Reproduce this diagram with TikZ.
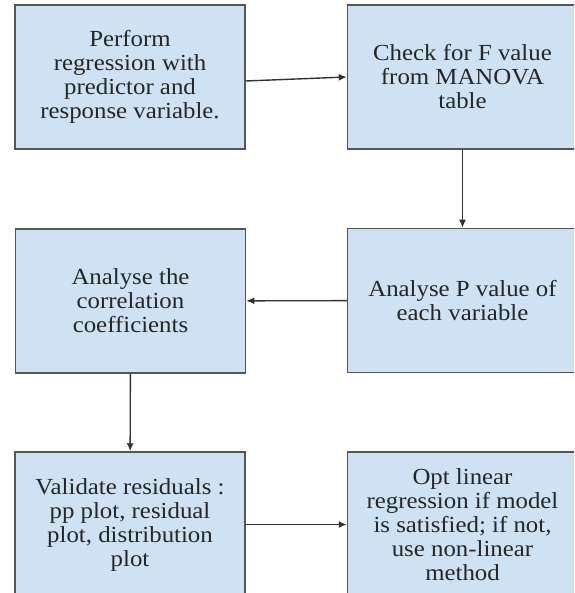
\documentclass[tikz,border=0pt]{standalone}
\usepackage{fontspec}
\setmainfont{Liberation Serif}[FakeStretch=1.08]
\usepackage{tikz}
\usetikzlibrary{arrows.meta}
\definecolor{boxblue}{HTML}{CFE2F3}
\definecolor{boxline}{HTML}{555555}
\tikzset{%
   stepbox/.style={
    draw=boxline,
    fill=boxblue,
    line width=1.5pt,
    minimum width=230pt,
    minimum height=144pt,
    align=center,
    text=black!85,
    font=\fontsize{23}{24}\selectfont
  },
   flow/.style={
    ->,
    draw=black!80,
    line width=1.4pt
  },
}

\begin{document}
\begin{tikzpicture}[x=1pt, y=-1pt, >={Latex[length=8pt,width=7pt]}]

\clip (0,0) rectangle (574,593);
\fill [white] (0,0) rectangle (574,593);

% left column
\node [stepbox] (perform) at (130,77)
  {Perform\\regression with\\predictor and\\response variable.};
\node [stepbox] (correlation) at (130.5,301)
  {Analyse the\\correlation\\coefficients};
\node [stepbox, minimum height=145pt] (residuals) at (130,524.5)
  {Validate residuals :\\pp plot, residual\\plot, distribution\\plot};

% right column
\node [stepbox] (manova) at (462.5,77)
  {Check for F value\\from MANOVA\\table};
\node [stepbox] (pvalue) at (462.5,300.5)
  {Analyse P value of\\each variable};
\node [stepbox, minimum height=145pt] (optlinear) at (462.5,524.5)
  {Opt linear\\regression if model\\is satisfied; if not,\\use non-linear\\method};

%%%%%%%%%%%%%%%%%%%%%%%%%%%%%%%%%%%%%%%%%%%%%%%%%%%%%%%%%%%%%%%%%%%%%%%%%%%%%
% connections

\draw [flow] ([yshift=-4pt]perform.east) -- (manova.west);
\draw [flow] (manova) -- (pvalue);
\draw [flow] (pvalue) -- (correlation);
\draw [flow] (correlation) -- (residuals);
\draw [flow] (residuals) -- (optlinear);

\end{tikzpicture}
\end{document}
